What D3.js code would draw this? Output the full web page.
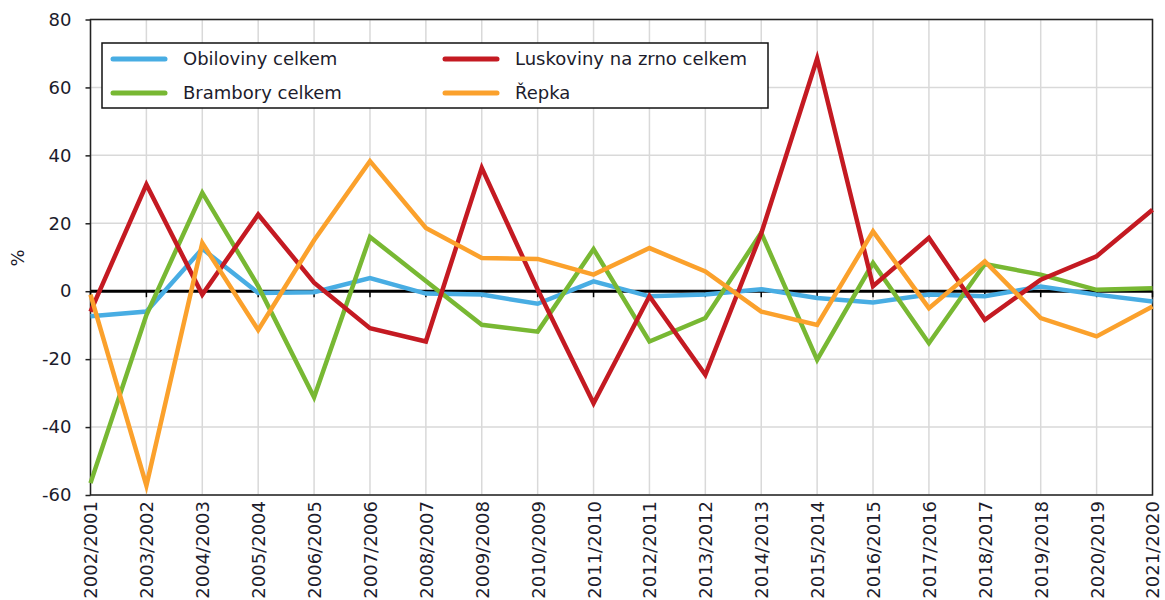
<!DOCTYPE html>
<html lang="cs">
<head>
<meta charset="UTF-8">
<title>Index sklizně</title>
<style>
  body { margin: 0; background: #fff; }
  svg text { font-family: "DejaVu Sans", Verdana, sans-serif; fill: #1c1c2c; }
</style>
</head>
<body>
<div id="chart"></div>
<script src="https://d3js.org/d3.v7.min.js"></script>
<script>
const w = 1165;
const h = 600;

const years = ['2002/2001', '2003/2002', '2004/2003', '2005/2004', '2006/2005',
               '2007/2006', '2008/2007', '2009/2008', '2010/2009', '2011/2010',
               '2012/2011', '2013/2012', '2014/2013', '2015/2014', '2016/2015',
               '2017/2016', '2018/2017', '2019/2018', '2020/2019', '2021/2020'];

const obiloviny = [-7.4, -6, 12.5, -0.5, -0.3, 3.9, -0.7, -1, -3.7, 2.9,
                   -1.5, -1, 0.6, -2, -3.3, -1, -1.5, 1.4, -1, -3];
const luskoviny = [-6, 31.4, -1, 22.6, 2.5, -10.9, -14.8, 36.3, 0.5, -33,
                   -1.5, -24.6, 17, 68.5, 1.5, 15.7, -8.4, 3.4, 10.3, 24];
const brambory  = [-56.5, -7, 29, 1.5, -31.2, 16, 3, -9.9, -11.9, 12.4,
                   -14.8, -7.9, 17.2, -20.2, 8.3, -15.3, 8, 4.9, 0.4, 0.9];
const repka     = [-1, -57.2, 14.2, -11.4, 15, 38.3, 18.6, 9.8, 9.5, 4.9,
                   12.7, 5.8, -6, -9.9, 17.6, -5, 8.8, -7.9, -13.3, -4.5];

const yTicks = [-60, -40, -20, 0, 20, 40, 60, 80];

const series = [
  {name: 'Obiloviny celkem', values: obiloviny, color: '#48ade3'},
  {name: 'Luskoviny na zrno celkem', values: luskoviny, color: '#c41a22'},
  {name: 'Brambory celkem', values: brambory, color: '#78b833'},
  {name: 'Řepka', values: repka, color: '#fba12c'}
];
// drawing order: blue under the rest
const drawOrder = [0, 2, 1, 3];

const padL = 90.5, padR = 1152.5, padT = 19.5, padB = 495;

const x = d3.scalePoint().domain(years).range([padL, padR]);
const y = d3.scaleLinear().domain([-60, 80]).range([padB, padT]);

const svg = d3.select('#chart').append('svg')
  .attr('width', w)
  .attr('height', h);

// grid
svg.append('g')
  .selectAll('line')
  .data(yTicks)
  .join('line')
  .attr('x1', padL).attr('x2', padR)
  .attr('y1', d => y(d)).attr('y2', d => y(d))
  .attr('stroke', '#d9d9d9').attr('stroke-width', 1.5);

svg.append('g')
  .selectAll('line')
  .data(years)
  .join('line')
  .attr('x1', d => x(d)).attr('x2', d => x(d))
  .attr('y1', padT).attr('y2', padB)
  .attr('stroke', '#d9d9d9').attr('stroke-width', 1.5);

// frame
svg.append('rect')
  .attr('x', padL).attr('y', padT)
  .attr('width', padR - padL).attr('height', padB - padT)
  .attr('fill', 'none').attr('stroke', '#222').attr('stroke-width', 1.5);

// y axis (plain hyphen minus like the original)
const yAxis = d3.axisLeft(y).tickValues(yTicks).tickSize(5).tickPadding(14)
  .tickFormat(d => String(d));
const gy = svg.append('g')
  .attr('transform', `translate(${padL},0)`)
  .call(yAxis);
gy.select('.domain').remove();
gy.selectAll('.tick line').attr('stroke', '#222').attr('stroke-width', 1.5);
gy.selectAll('.tick text')
  .style('font-size', '18px')
  .style('font-family', '"DejaVu Sans", Verdana, sans-serif');

svg.append('text')
  .attr('transform', `translate(24,258) rotate(-90)`)
  .attr('text-anchor', 'middle')
  .style('font-size', '18px')
  .text('%');

// x labels along the bottom
const xAxis = d3.axisBottom(x).tickSize(0).tickPadding(0);
const gx = svg.append('g')
  .attr('transform', `translate(0,${padB})`)
  .call(xAxis);
gx.select('.domain').remove();
gx.selectAll('.tick text')
  .attr('transform', 'rotate(-90)')
  .attr('text-anchor', 'end')
  .attr('x', -6)
  .attr('y', 0)
  .attr('dy', '0.36em')
  .style('font-size', '18px')
  .style('font-family', '"DejaVu Sans", Verdana, sans-serif');

// zero line with ticks
svg.append('line')
  .attr('x1', padL).attr('x2', padR)
  .attr('y1', y(0)).attr('y2', y(0))
  .attr('stroke', '#000').attr('stroke-width', 3);
svg.append('g')
  .selectAll('line')
  .data(years)
  .join('line')
  .attr('x1', d => x(d)).attr('x2', d => x(d))
  .attr('y1', y(0)).attr('y2', y(0) + 6)
  .attr('stroke', '#000').attr('stroke-width', 1.5);

// series lines
const line = d3.line()
  .x((d, i) => x(years[i]))
  .y(d => y(d));

svg.append('g')
  .selectAll('path')
  .data(drawOrder.map(i => series[i]))
  .join('path')
  .attr('d', d => line(d.values))
  .attr('fill', 'none')
  .attr('stroke', d => d.color)
  .attr('stroke-width', 4.5)
  .attr('stroke-linejoin', 'miter');

// legend
const legend = svg.append('g');
legend.append('rect')
  .attr('x', 102).attr('y', 43)
  .attr('width', 666).attr('height', 65)
  .attr('fill', '#fff').attr('stroke', '#111').attr('stroke-width', 1.5);

const legPos = [[113, 59], [445, 59], [113, 93], [445, 93]];
const items = legend.selectAll('g.item')
  .data(series)
  .join('g')
  .attr('class', 'item')
  .attr('transform', (d, i) => `translate(${legPos[i][0]},${legPos[i][1]})`);
items.append('line')
  .attr('x1', 0).attr('x2', 52)
  .attr('stroke', d => d.color)
  .attr('stroke-width', 5)
  .attr('stroke-linecap', 'round');
items.append('text')
  .attr('x', 70)
  .attr('dy', '0.35em')
  .style('font-size', '18px')
  .text(d => d.name);
</script>
</body>
</html>
